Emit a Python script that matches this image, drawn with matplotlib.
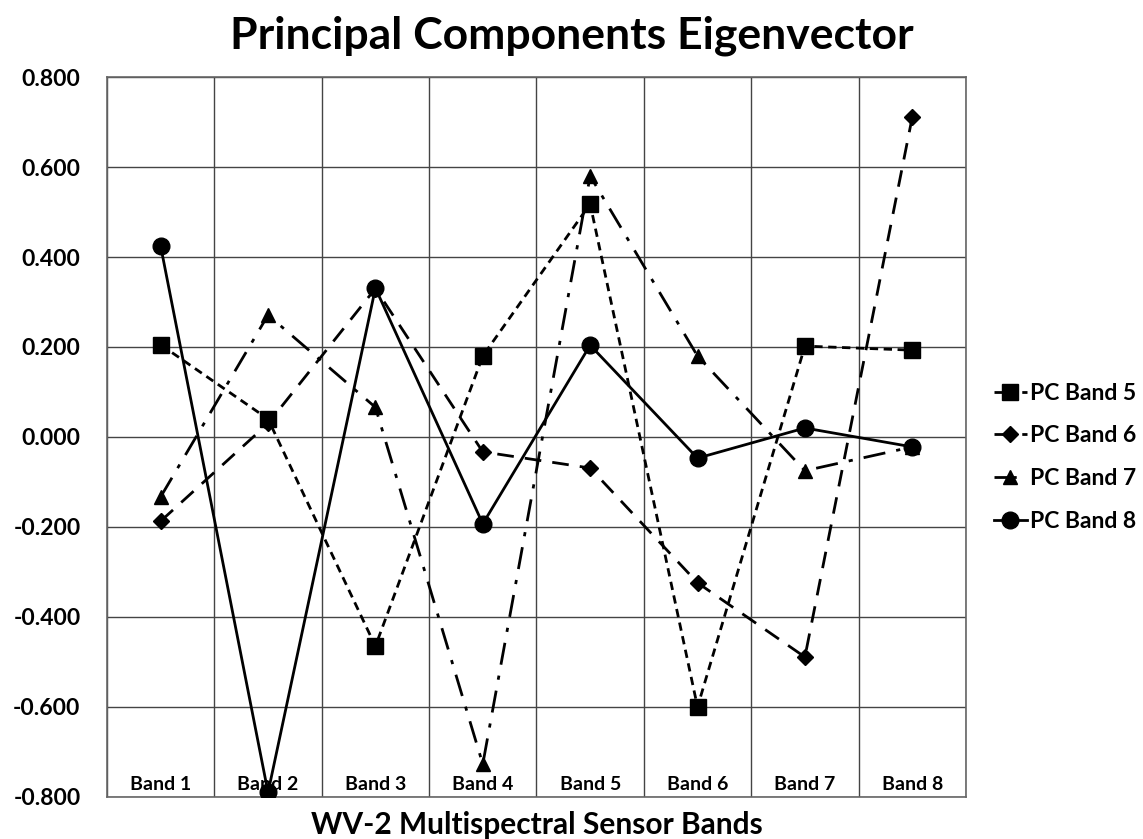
import matplotlib.pyplot as plt

# 数据
bands = ['Band 1', 'Band 2', 'Band 3', 'Band 4', 'Band 5', 'Band 6', 'Band 7', 'Band 8']
pc5 = [0.205, 0.040, -0.465, 0.180, 0.518, -0.600, 0.202, 0.193]
pc6 = [-0.187, 0.030, 0.330, -0.033, -0.069, -0.324, -0.489, 0.711]
pc7 = [-0.133, 0.271, 0.066, -0.727, 0.580, 0.180, -0.075, -0.022]
pc8 = [0.424, -0.790, 0.331, -0.193, 0.204, -0.047, 0.020, -0.022]
yticks = [-0.8, -0.6, -0.4, -0.2, 0.0, 0.2, 0.4, 0.6, 0.8]

plt.rcParams['font.family'] = ['Lato', 'DejaVu Sans']
plt.rcParams['font.weight'] = 'bold'

fig = plt.figure(figsize=(11.43, 8.39), dpi=100)
ax = fig.add_axes([0.0936, 0.0501, 0.7515, 0.8581])

x = list(range(1, len(bands) + 1))
series = [
    (pc5, 's', (0, (3, 2)), 'PC Band 5', 11),
    (pc6, 'D', (0, (6, 4)), 'PC Band 6', 8),
    (pc7, '^', (0, (8, 4, 1.5, 4)), 'PC Band 7', 10),
    (pc8, 'o', '-', 'PC Band 8', 12),
]
for vals, mk, ls, lab, ms in series:
    ax.plot(x, vals, color='black', linestyle=ls, linewidth=2, marker=mk,
            markersize=ms, label=lab, zorder=3)

ax.set_xlim(0.5, 8.5)
ax.set_ylim(-0.8, 0.8)
ax.set_yticks(yticks)
ax.set_yticklabels([f"{v:.3f}" for v in yticks], fontsize=16.5, fontweight='bold')
ax.set_xticks(x)
ax.set_xticklabels(bands, fontsize=14, fontweight='bold')
ax.set_xticks([i + 0.5 for i in range(0, 9)], minor=True)
ax.tick_params(axis='x', which='both', length=0, pad=-15)
ax.tick_params(axis='y', length=0, pad=19)

# 网格
ax.grid(True, axis='y', which='major', color='#444444', linewidth=1)
ax.grid(True, axis='x', which='minor', color='#444444', linewidth=1)
ax.grid(False, axis='x', which='major')
ax.set_axisbelow(True)
for sp in ax.spines.values():
    sp.set_color('#666666')
    sp.set_linewidth(1.2)

fig.suptitle('Principal Components Eigenvector', x=0.5, y=0.982,
             fontsize=32, fontweight='bold')
ax.set_xlabel('WV-2 Multispectral Sensor Bands', fontsize=21.5, fontweight='bold',
              labelpad=10)

leg = fig.legend(loc='center left', bbox_to_anchor=(0.856, 0.455), frameon=False,
                 handlelength=1.4, handletextpad=0.15, labelspacing=0.95,
                 borderpad=0.2, prop={'weight': 'bold', 'size': 16.5})

fig.savefig('out.png', dpi=100)
